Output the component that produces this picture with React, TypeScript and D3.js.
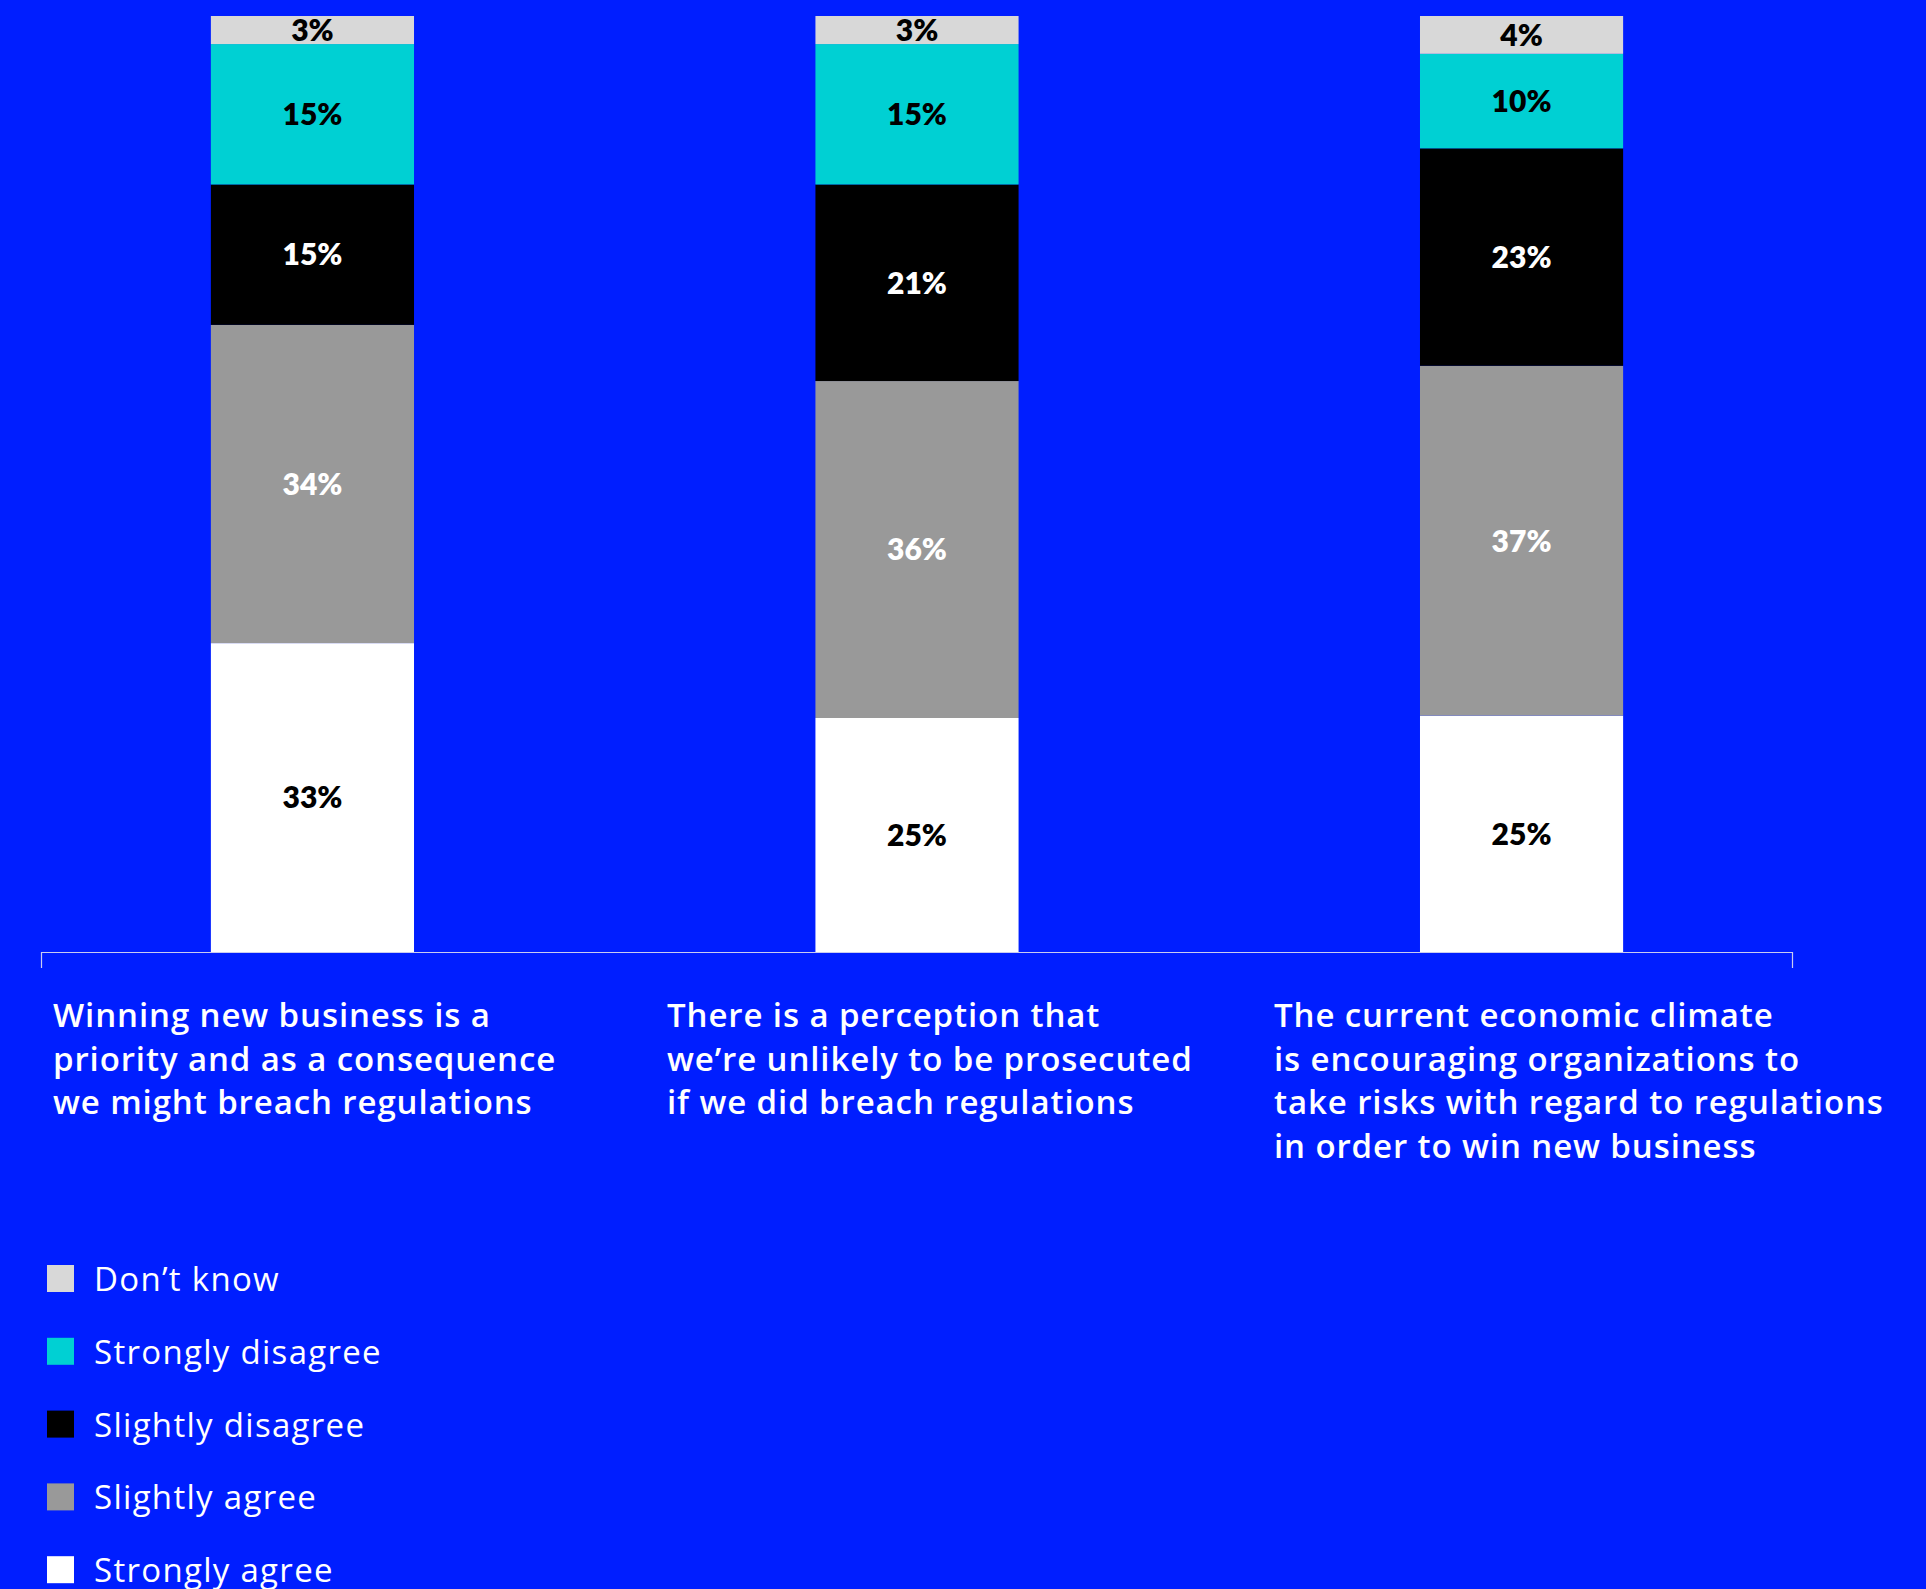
import React from "react";
import * as d3 from "d3";

// ---- data ----
const categories = ["c1", "c2", "c3"];
const categoryLines = [
  ["Winning new business is a", "priority and as a consequence", "we might breach regulations"],
  ["There is a perception that", "we\u2019re unlikely to be prosecuted", "if we did breach regulations"],
  ["The current economic climate", "is encouraging organizations to", "take risks with regard to regulations", "in order to win new business"],
];
const seriesKeys = ["Strongly agree", "Slightly agree", "Slightly disagree", "Strongly disagree", "Don\u2019t know"];
const stronglyAgree = [33, 25, 25];
const slightlyAgree = [34, 36, 37];
const slightlyDisagree = [15, 21, 23];
const stronglyDisagree = [15, 15, 10];
const dontKnow = [3, 3, 4];
const legendOrder = ["Don\u2019t know", "Strongly disagree", "Slightly disagree", "Slightly agree", "Strongly agree"];

// ---- style ----
const W = 1926;
const H = 1589;
const BG = "#001EFF";
const colors: Record<string, string> = {
  "Strongly agree": "#FFFFFF",
  "Slightly agree": "#999999",
  "Slightly disagree": "#000000",
  "Strongly disagree": "#00D0D3",
  "Don\u2019t know": "#D8D8D8",
};
const labelColors: Record<string, string> = {
  "Strongly agree": "#000000",
  "Slightly agree": "#FFFFFF",
  "Slightly disagree": "#FFFFFF",
  "Strongly disagree": "#000000",
  "Don\u2019t know": "#000000",
};
const VALUE_FONT = "Lato, 'Open Sans', sans-serif";
const TEXT_FONT = "'Open Sans', 'Noto Sans', sans-serif";

export default function App() {
  const table = categories.map((c, i) => ({
    cat: c,
    "Strongly agree": stronglyAgree[i],
    "Slightly agree": slightlyAgree[i],
    "Slightly disagree": slightlyDisagree[i],
    "Strongly disagree": stronglyDisagree[i],
    "Don\u2019t know": dontKnow[i],
  }));
  const stacked = d3.stack<any>().keys(seriesKeys).offset(d3.stackOffsetExpand)(table);

  const axisY = 952;
  const x = d3.scaleBand().domain(categories).range([41, 1793]).paddingInner(0.664).paddingOuter(0.281);
  const y = d3.scaleLinear().domain([0, 1]).range([axisY, 16]);

  const labelX = [53, 667, 1274];
  const firstBaseline = 1027;
  const lineGap = 43.5;

  const legendX = 47;
  const legendTop = 1265;
  const legendGap = 72.8;
  const sq = 27;

  return (
    <div style={{ position: "absolute", left: 0, top: 0 }}>
      <svg width={W} height={H} style={{ display: "block", background: BG }}>
        <rect x={0} y={0} width={W} height={H} fill={BG} />
        {/* axis */}
        <path
          d={`M${x.range()[0] + 0.5},968V${axisY + 0.5}H${x.range()[1] - 0.5}V968`}
          fill="none"
          stroke="#C9CCF0"
          strokeWidth={1.2}
        />
        {/* bars */}
        {stacked.map((s) => (
          <g key={s.key}>
            {s.map((d, i) => {
              const y0 = y(d[0]);
              const y1 = y(d[1]);
              return (
                <g key={i}>
                  <rect x={x(categories[i])} y={y1} width={x.bandwidth()} height={y0 - y1} fill={colors[s.key]} />
                  <text
                    x={(x(categories[i]) as number) + x.bandwidth() / 2}
                    y={(y0 + y1) / 2}
                    dy="0.36em"
                    textAnchor="middle"
                    fontFamily={VALUE_FONT}
                    fontWeight={800}
                    fontSize={30}
                    fill={labelColors[s.key]}
                  >
                    {`${table[i][s.key as keyof (typeof table)[number]]}%`}
                  </text>
                </g>
              );
            })}
          </g>
        ))}
        {/* category labels */}
        {categoryLines.map((lines, i) => (
          <text key={i} fontFamily={TEXT_FONT} fontWeight={600} fontSize={33} letterSpacing={0.9} fill="#FFFFFF">
            {lines.map((l, j) => (
              <tspan key={j} x={labelX[i]} y={firstBaseline + j * lineGap}>
                {l}
              </tspan>
            ))}
          </text>
        ))}
        {/* legend */}
        {legendOrder.map((k, i) => (
          <g key={k} transform={`translate(${legendX},${legendTop + i * legendGap})`}>
            <rect x={0} y={0} width={sq} height={sq} fill={colors[k]} />
            <text x={47} y={sq - 1} fontFamily={TEXT_FONT} fontWeight={400} fontSize={33} letterSpacing={1.3} fill="#FFFFFF">
              {k}
            </text>
          </g>
        ))}
      </svg>
    </div>
  );
}
